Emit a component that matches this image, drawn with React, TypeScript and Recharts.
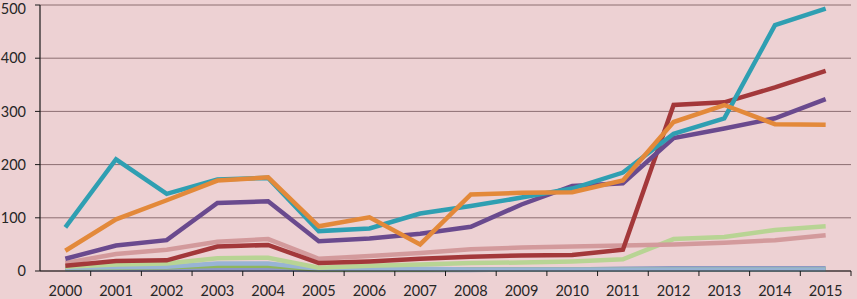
import { LineChart, Line, XAxis, YAxis, CartesianGrid } from 'recharts'

document.body.style.margin = '0'

const years = ['2000', '2001', '2002', '2003', '2004', '2005', '2006', '2007', '2008', '2009', '2010', '2011', '2012', '2013', '2014', '2015']

const slate = [3, 3, 3, 3, 3, 2, 2, 2, 2, 3, 3, 4, 5, 5, 5, 5]
const paleBlue = [6, 7, 8, 14, 14, 4, 4, 4, 3, 3, 3, 3, 3, 3, 3, 3]
const green = [5, 6, 7, 10, 10, 3, 3, 3, 3, 3, 3, 3, 3, 3, 3, 3]
const lightGreen = [8, 12, 14, 24, 25, 6, 10, 12, 15, 16, 18, 22, 60, 64, 77, 84]
const rose = [15, 32, 40, 55, 60, 23, 28, 34, 41, 44, 46, 48, 50, 53, 58, 67]
const crimson = [10, 19, 20, 46, 49, 15, 18, 23, 27, 29, 30, 40, 312, 317, 345, 376]
const violet = [23, 48, 58, 128, 131, 56, 61, 70, 83, 125, 160, 165, 250, 268, 287, 323]
const teal = [82, 210, 145, 172, 175, 75, 80, 108, 122, 138, 155, 185, 258, 287, 462, 493]
const amber = [38, 97, 133, 170, 176, 84, 101, 50, 144, 147, 148, 170, 280, 312, 276, 275]

const yTicks = [0, 100, 200, 300, 400, 500]

const data = years.map((year, i) => ({
  year,
  slate: slate[i],
  paleBlue: paleBlue[i],
  green: green[i],
  lightGreen: lightGreen[i],
  rose: rose[i],
  crimson: crimson[i],
  violet: violet[i],
  teal: teal[i],
  amber: amber[i],
}))

const series = [
  { key: 'slate', color: '#8d98c4' },
  { key: 'green', color: '#8fb65c' },
  { key: 'paleBlue', color: '#98b4d4' },
  { key: 'lightGreen', color: '#b8d494' },
  { key: 'rose', color: '#d39a9c' },
  { key: 'crimson', color: '#a3383a' },
  { key: 'violet', color: '#6a4a8e' },
  { key: 'teal', color: '#2f9fb2' },
  { key: 'amber', color: '#e3893a' },
]

const font = 'Lato, "Open Sans", sans-serif'

const YearTick = (props: any) => {
  const { x, y, payload } = props
  const half = payload.offset ?? 25.35
  return (
    <g>
      <line x1={x + half} x2={x + half} y1={y - 8} y2={y - 3} stroke="#1a1a1a" strokeWidth={1} />
      <text x={x} y={y + 17} textAnchor="middle" fill="#262626" fontSize={14.5} fontFamily={font}>
        {payload.value}
      </text>
    </g>
  )
}

export default function App() {
  return (
    <div style={{ width: 857, height: 299, background: '#edd1d3' }}>
      <LineChart width={857} height={299} data={data} margin={{ top: 5, right: 6, left: 0, bottom: 0 }}>
        <CartesianGrid horizontal vertical={false} stroke="#8c6e71" strokeWidth={1} />
        <XAxis
          dataKey="year"
          scale="band"
          height={28}
          tickLine={false}
          axisLine={{ stroke: '#1a1a1a', strokeWidth: 1.2 }}
          tick={<YearTick />}
          interval={0}
        />
        <YAxis
          width={40}
          domain={[0, 500]}
          ticks={yTicks}
          tickSize={5}
          tickMargin={9}
          axisLine={{ stroke: '#1a1a1a', strokeWidth: 1.2 }}
          tickLine={{ stroke: '#1a1a1a' }}
          tick={{ fill: '#262626', fontSize: 14.5, fontFamily: font }}
        />
        {series.map((s) => (
          <Line
            key={s.key}
            type="linear"
            dataKey={s.key}
            stroke={s.color}
            strokeWidth={4.5}
            dot={false}
            isAnimationActive={false}
          />
        ))}
      </LineChart>
    </div>
  )
}
